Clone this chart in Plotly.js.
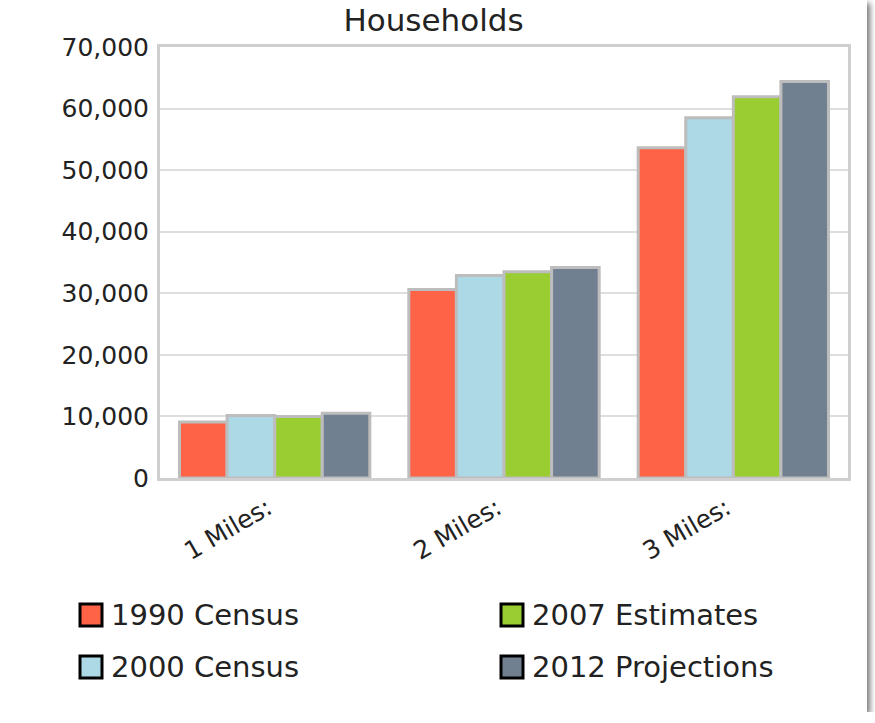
<!DOCTYPE html>
<html>
<head>
<meta charset="utf-8">
<script src="https://cdn.plot.ly/plotly-3.0.1.min.js"></script>
<style>
  html, body { margin: 0; padding: 0; background: #fff; }
  #chart { width: 867px; height: 712px; box-shadow: 3px 3px 6px rgba(0,0,0,0.55); background:#fff; }
</style>
</head>
<body>
<div id="chart"></div>
<script>
// ---- data ----
const categories = ['1 Miles:', '2 Miles:', '3 Miles:'];
const seriesNames = ['1990 Census', '2000 Census', '2007 Estimates', '2012 Projections'];
const census1990 = [9100, 30600, 53650];
const census2000 = [10150, 32900, 58500];
const estimates2007 = [10000, 33500, 61900];
const projections2012 = [10500, 34200, 64400];
const yTickValues = [0, 10000, 20000, 30000, 40000, 50000, 60000, 70000];

// ---- styles ----
const colors = ['#FF6347', '#ADD8E6', '#9ACD32', '#708090'];
const seriesValues = [census1990, census2000, estimates2007, projections2012];
const font = 'Verdana, "DejaVu Sans", sans-serif';

const traces = seriesValues.map((vals, i) => ({
  type: 'bar',
  name: seriesNames[i],
  x: categories,
  y: vals,
  marker: { color: colors[i], line: { color: '#bdbdbd', width: 3 } },
  showlegend: false,
  hoverinfo: 'x+y+name'
}));

// plot area in pixels (card 867x712)
const W = 867, H = 712;
const L = 160, R = 19, T = 47, B = 234;
const pw = W - L - R, ph = H - T - B;
const px = x => (x - L) / pw;
const py = y => (H - B - y) / ph;

// custom legend (2 columns, 2 rows)
const legendPos = [
  { sx: 80, sy: 615 },   // 1990
  { sx: 80, sy: 667 },   // 2000
  { sx: 501, sy: 615 },  // 2007
  { sx: 501, sy: 667 }   // 2012
];
const shapes = [];
const annotations = [];
seriesNames.forEach((name, i) => {
  const p = legendPos[i];
  shapes.push({
    type: 'rect', xref: 'paper', yref: 'paper',
    x0: px(p.sx), x1: px(p.sx + 22),
    y0: py(p.sy + 11), y1: py(p.sy - 11),
    fillcolor: colors[i], line: { color: '#000', width: 3 }
  });
  annotations.push({
    xref: 'paper', yref: 'paper',
    x: px(p.sx + 29), y: py(p.sy),
    xanchor: 'left', yanchor: 'middle',
    text: name, showarrow: false,
    font: { family: font, size: 29, color: '#222' }
  });
});

const layout = {
  width: W, height: H,
  margin: { l: L, r: R, t: T, b: B, pad: 0 },
  paper_bgcolor: '#fff',
  plot_bgcolor: '#fff',
  title: {
    text: 'Households',
    x: 0.5, xref: 'container', xanchor: 'center',
    y: 1 - 20 / H, yref: 'container', yanchor: 'middle',
    font: { family: font, size: 31, color: '#222' }
  },
  barmode: 'group',
  bargap: 0.17,
  bargroupgap: 0,
  xaxis: {
    type: 'category',
    tickangle: -30,
    tickfont: { family: font, size: 25, color: '#222' },
    showline: true, mirror: true, linecolor: '#cfcfcf', linewidth: 3,
    showgrid: false, ticks: '', zeroline: false,
    ticklabelstandoff: 3,
    ticklabelshift: -7
  },
  yaxis: {
    range: [0, 70000],
    tickvals: yTickValues,
    tickformat: ',',
    tickfont: { family: font, size: 25, color: '#222' },
    showline: true, mirror: true, linecolor: '#cfcfcf', linewidth: 3,
    showgrid: true, gridcolor: '#dedede', gridwidth: 2,
    zeroline: false, ticks: '',
    ticklabelstandoff: 3
  },
  shapes: shapes,
  annotations: annotations,
  showlegend: false
};

Plotly.newPlot('chart', traces, layout, { displayModeBar: false, responsive: false });
</script>
</body>
</html>
